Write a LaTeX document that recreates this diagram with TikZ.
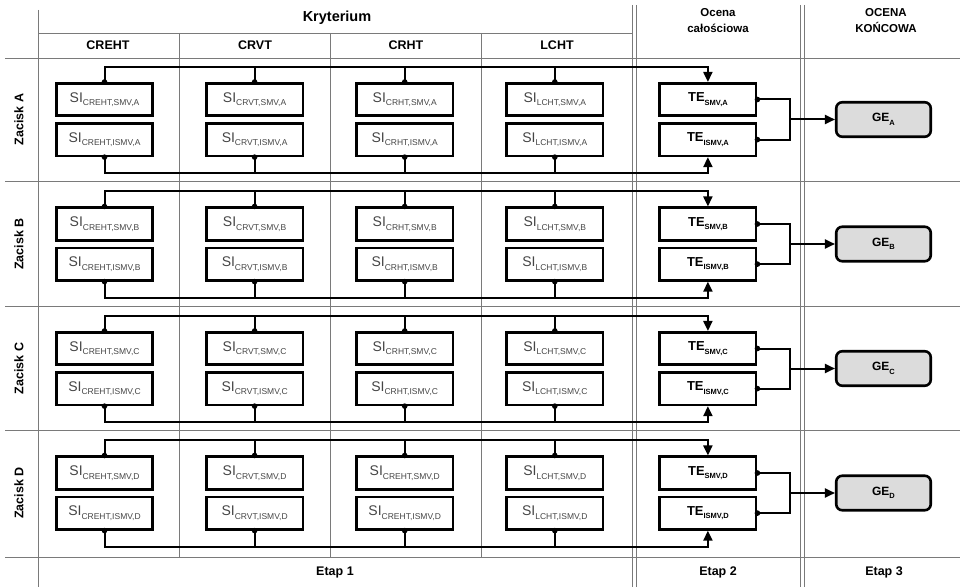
\documentclass[tikz,border=0pt]{standalone}
\usepackage{fontspec}
\setmainfont{Liberation Sans}
\usetikzlibrary{positioning, arrows.meta}
\definecolor{gridGray}{HTML}{7A7A7A}
\definecolor{labelGray}{HTML}{454545}
\definecolor{geFill}{HTML}{DCDCDC}

\newcommand{\silab}[1]{{\fontsize{14}{14}\selectfont SI}\raisebox{-3.5pt}{\fontsize{8.5}{8.5}\selectfont #1}}
\newcommand{\telab}[1]{{\fontsize{13}{13}\selectfont\bfseries TE}\raisebox{-3.5pt}{\fontsize{7.5}{7.5}\selectfont\bfseries #1}}
\newcommand{\gelab}[1]{{\fontsize{12}{12}\selectfont\bfseries GE}\raisebox{-3.5pt}{\fontsize{7.5}{7.5}\selectfont\bfseries #1}}

\begin{document}
\begin{tikzpicture}[
    x=1pt, y=1pt,
    >={Triangle[length=10pt,width=9pt]},
    sibox/.style={draw, line width=2.6pt, minimum width=96.5pt, minimum height=32.5pt, inner sep=0pt, text=labelGray},
    tebox/.style={sibox, text=black},
    gebox/.style={draw, line width=2.6pt, rounded corners=6pt, fill=geFill, minimum width=94.5pt, minimum height=34.5pt, inner sep=0pt},
    bus/.style={line width=2pt},
    gridline/.style={draw=gridGray, line width=0.8pt},
    head/.style={font=\fontsize{12.5}{14}\selectfont\bfseries},
    small head/.style={font=\fontsize{11.5}{16}\selectfont\bfseries, align=center},
    row head/.style={font=\fontsize{12.5}{14}\selectfont\bfseries, rotate=90}
]
    \useasboundingbox (0,0) rectangle (960,587);

    % Table lines
    \draw[gridline] (38,577) -- (38,0);
    \draw[gridline] (38,554) -- (632,554);
    \draw[gridline] (5,529) -- (960,529)
                    (5,406) -- (960,406)
                    (5,281) -- (960,281)
                    (5,157) -- (960,157)
                    (5,30) -- (960,30);
    \draw[gridline] (179,554) -- (179,30)
                    (330,554) -- (330,30)
                    (481,554) -- (481,30);
    \draw[gridline] (632,582) -- (632,0)
                    (636,582) -- (636,0)
                    (800,582) -- (800,0)
                    (804,582) -- (804,0);

    % Header
    \node[head, font=\fontsize{14.5}{16}\selectfont\bfseries] (kryt) at (337,569) {Kryterium};
    \node[head] (hCREHT) at (108,542) {CREHT};
    \node[head] (hCRVT) at (255,542) {CRVT};
    \node[head] (hCRHT) at (406,542) {CRHT};
    \node[head] (hLCHT) at (557,542) {LCHT};
    \node[small head] (hTE) at (718,566) {Ocena\\całościowa};
    \node[small head] (hGE) at (886,566) {OCENA\\KOŃCOWA};

    % Row labels
    \node[row head] (zA) at (19,467.5) {Zacisk A};
    \node[row head] (zB) at (19,343) {Zacisk B};
    \node[row head] (zC) at (19,218.5) {Zacisk C};
    \node[row head] (zD) at (19,94) {Zacisk D};

    % Stages
    \node[head] (etap1) at (335,15) {Etap 1};
    \node[head] (etap2) at (718,15) {Etap 2};
    \node[head] (etap3) at (884,15) {Etap 3};

    % Zacisk A
    \node[sibox] (SA1) at (104.5,487.5) {\silab{CREHT,SMV,A}};
    \node[sibox, right=51pt of SA1] (SA2) {\silab{CRVT,SMV,A}};
    \node[sibox, right=51pt of SA2] (SA3) {\silab{CRHT,SMV,A}};
    \node[sibox, right=51pt of SA3] (SA4) {\silab{LCHT,SMV,A}};
    \node[tebox, right=54pt of SA4] (TSA) {\telab{SMV,A}};
    \node[sibox, below=5pt of SA1] (IA1) {\silab{CREHT,ISMV,A}};
    \node[sibox, below=5pt of SA2] (IA2) {\silab{CRVT,ISMV,A}};
    \node[sibox, below=5pt of SA3] (IA3) {\silab{CRHT,ISMV,A}};
    \node[sibox, below=5pt of SA4] (IA4) {\silab{LCHT,ISMV,A}};
    \node[tebox, below=5pt of TSA] (TIA) {\telab{ISMV,A}};
    \node[gebox] (GA) at (883.5,467.5) {\gelab{A}};

    \draw[bus,->] (SA1.north) -- ++(0,15) -| (TSA.north);
    \draw[bus] (SA2.north) -- ++(0,15) (SA3.north) -- ++(0,15) (SA4.north) -- ++(0,15);
    \draw[bus,->] (IA1.south) -- ++(0,-16) -| (TIA.south);
    \draw[bus] (IA2.south) -- ++(0,-16) (IA3.south) -- ++(0,-16) (IA4.south) -- ++(0,-16);
    \fill (SA1.north) circle (2.8pt) (SA2.north) circle (2.8pt) (SA3.north) circle (2.8pt) (SA4.north) circle (2.8pt)
          (IA1.south) circle (2.8pt) (IA2.south) circle (2.8pt) (IA3.south) circle (2.8pt) (IA4.south) circle (2.8pt);
    \draw[bus] (TSA.east) -- ++(33,0) coordinate (JA) |- (TIA.east);
    \draw[bus,->] (JA |- GA.west) -- (GA.west);
    \fill (TSA.east) circle (2.8pt) (TIA.east) circle (2.8pt);

    % Zacisk B
    \node[sibox] (SB1) at (104.5,363) {\silab{CREHT,SMV,B}};
    \node[sibox, right=51pt of SB1] (SB2) {\silab{CRVT,SMV,B}};
    \node[sibox, right=51pt of SB2] (SB3) {\silab{CRHT,SMV,B}};
    \node[sibox, right=51pt of SB3] (SB4) {\silab{LCHT,SMV,B}};
    \node[tebox, right=54pt of SB4] (TSB) {\telab{SMV,B}};
    \node[sibox, below=5pt of SB1] (IB1) {\silab{CREHT,ISMV,B}};
    \node[sibox, below=5pt of SB2] (IB2) {\silab{CRVT,ISMV,B}};
    \node[sibox, below=5pt of SB3] (IB3) {\silab{CRHT,ISMV,B}};
    \node[sibox, below=5pt of SB4] (IB4) {\silab{LCHT,ISMV,B}};
    \node[tebox, below=5pt of TSB] (TIB) {\telab{ISMV,B}};
    \node[gebox] (GB) at (883.5,343) {\gelab{B}};

    \draw[bus,->] (SB1.north) -- ++(0,15) -| (TSB.north);
    \draw[bus] (SB2.north) -- ++(0,15) (SB3.north) -- ++(0,15) (SB4.north) -- ++(0,15);
    \draw[bus,->] (IB1.south) -- ++(0,-16) -| (TIB.south);
    \draw[bus] (IB2.south) -- ++(0,-16) (IB3.south) -- ++(0,-16) (IB4.south) -- ++(0,-16);
    \fill (SB1.north) circle (2.8pt) (SB2.north) circle (2.8pt) (SB3.north) circle (2.8pt) (SB4.north) circle (2.8pt)
          (IB1.south) circle (2.8pt) (IB2.south) circle (2.8pt) (IB3.south) circle (2.8pt) (IB4.south) circle (2.8pt);
    \draw[bus] (TSB.east) -- ++(33,0) coordinate (JB) |- (TIB.east);
    \draw[bus,->] (JB |- GB.west) -- (GB.west);
    \fill (TSB.east) circle (2.8pt) (TIB.east) circle (2.8pt);

    % Zacisk C
    \node[sibox] (SC1) at (104.5,238.5) {\silab{CREHT,SMV,C}};
    \node[sibox, right=51pt of SC1] (SC2) {\silab{CRVT,SMV,C}};
    \node[sibox, right=51pt of SC2] (SC3) {\silab{CRHT,SMV,C}};
    \node[sibox, right=51pt of SC3] (SC4) {\silab{LCHT,SMV,C}};
    \node[tebox, right=54pt of SC4] (TSC) {\telab{SMV,C}};
    \node[sibox, below=5pt of SC1] (IC1) {\silab{CREHT,ISMV,C}};
    \node[sibox, below=5pt of SC2] (IC2) {\silab{CRVT,ISMV,C}};
    \node[sibox, below=5pt of SC3] (IC3) {\silab{CRHT,ISMV,C}};
    \node[sibox, below=5pt of SC4] (IC4) {\silab{LCHT,ISMV,C}};
    \node[tebox, below=5pt of TSC] (TIC) {\telab{ISMV,C}};
    \node[gebox] (GC) at (883.5,218.5) {\gelab{C}};

    \draw[bus,->] (SC1.north) -- ++(0,15) -| (TSC.north);
    \draw[bus] (SC2.north) -- ++(0,15) (SC3.north) -- ++(0,15) (SC4.north) -- ++(0,15);
    \draw[bus,->] (IC1.south) -- ++(0,-16) -| (TIC.south);
    \draw[bus] (IC2.south) -- ++(0,-16) (IC3.south) -- ++(0,-16) (IC4.south) -- ++(0,-16);
    \fill (SC1.north) circle (2.8pt) (SC2.north) circle (2.8pt) (SC3.north) circle (2.8pt) (SC4.north) circle (2.8pt)
          (IC1.south) circle (2.8pt) (IC2.south) circle (2.8pt) (IC3.south) circle (2.8pt) (IC4.south) circle (2.8pt);
    \draw[bus] (TSC.east) -- ++(33,0) coordinate (JC) |- (TIC.east);
    \draw[bus,->] (JC |- GC.west) -- (GC.west);
    \fill (TSC.east) circle (2.8pt) (TIC.east) circle (2.8pt);

    % Zacisk D
    \node[sibox] (SD1) at (104.5,114) {\silab{CREHT,SMV,D}};
    \node[sibox, right=51pt of SD1] (SD2) {\silab{CRVT,SMV,D}};
    \node[sibox, right=51pt of SD2] (SD3) {\silab{CREHT,SMV,D}};
    \node[sibox, right=51pt of SD3] (SD4) {\silab{LCHT,SMV,D}};
    \node[tebox, right=54pt of SD4] (TSD) {\telab{SMV,D}};
    \node[sibox, below=5pt of SD1] (ID1) {\silab{CREHT,ISMV,D}};
    \node[sibox, below=5pt of SD2] (ID2) {\silab{CRVT,ISMV,D}};
    \node[sibox, below=5pt of SD3] (ID3) {\silab{CREHT,ISMV,D}};
    \node[sibox, below=5pt of SD4] (ID4) {\silab{LCHT,ISMV,D}};
    \node[tebox, below=5pt of TSD] (TID) {\telab{ISMV,D}};
    \node[gebox] (GD) at (883.5,94) {\gelab{D}};

    \draw[bus,->] (SD1.north) -- ++(0,15) -| (TSD.north);
    \draw[bus] (SD2.north) -- ++(0,15) (SD3.north) -- ++(0,15) (SD4.north) -- ++(0,15);
    \draw[bus,->] (ID1.south) -- ++(0,-16) -| (TID.south);
    \draw[bus] (ID2.south) -- ++(0,-16) (ID3.south) -- ++(0,-16) (ID4.south) -- ++(0,-16);
    \fill (SD1.north) circle (2.8pt) (SD2.north) circle (2.8pt) (SD3.north) circle (2.8pt) (SD4.north) circle (2.8pt)
          (ID1.south) circle (2.8pt) (ID2.south) circle (2.8pt) (ID3.south) circle (2.8pt) (ID4.south) circle (2.8pt);
    \draw[bus] (TSD.east) -- ++(33,0) coordinate (JD) |- (TID.east);
    \draw[bus,->] (JD |- GD.west) -- (GD.west);
    \fill (TSD.east) circle (2.8pt) (TID.east) circle (2.8pt);
\end{tikzpicture}
\end{document}
